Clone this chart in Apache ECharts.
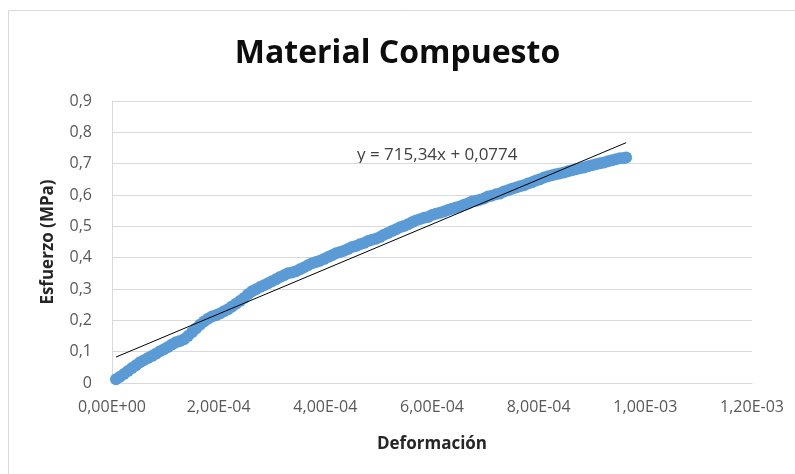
<!DOCTYPE html>
<html>
<head>
<meta charset="utf-8">
<title>Material Compuesto</title>
<script src="https://cdn.jsdelivr.net/npm/echarts@6/dist/echarts.min.js"></script>
<style>
  html, body { margin: 0; padding: 0; background: #fff; }
  #chart { width: 795px; height: 474px; }
</style>
</head>
<body>
<div id="chart"></div>
<script>
// Deformación (x) y esfuerzo en MPa (y)
const deformacion = [
  7.5e-6, 1.5e-5, 2.25e-5, 3e-5, 3.75e-5, 4.5e-5, 5.25e-5, 6e-5,
  6.75e-5, 7.5e-5, 8.25e-5, 9e-5, 9.75e-5, 1.05e-4, 1.125e-4, 1.2e-4,
  1.275e-4, 1.35e-4, 1.425e-4, 1.5e-4, 1.575e-4, 1.65e-4, 1.725e-4, 1.8e-4,
  1.875e-4, 1.95e-4, 2.025e-4, 2.1e-4, 2.175e-4, 2.25e-4, 2.325e-4, 2.4e-4,
  2.475e-4, 2.55e-4, 2.625e-4, 2.7e-4, 2.775e-4, 2.85e-4, 2.925e-4, 3e-4,
  3.075e-4, 3.15e-4, 3.225e-4, 3.3e-4, 3.375e-4, 3.45e-4, 3.525e-4, 3.6e-4,
  3.675e-4, 3.75e-4, 3.825e-4, 3.9e-4, 3.975e-4, 4.05e-4, 4.125e-4, 4.2e-4,
  4.275e-4, 4.35e-4, 4.425e-4, 4.5e-4, 4.575e-4, 4.65e-4, 4.725e-4, 4.8e-4,
  4.875e-4, 4.95e-4, 5.025e-4, 5.1e-4, 5.175e-4, 5.25e-4, 5.325e-4, 5.4e-4,
  5.475e-4, 5.55e-4, 5.625e-4, 5.7e-4, 5.775e-4, 5.85e-4, 5.925e-4, 6e-4,
  6.075e-4, 6.15e-4, 6.225e-4, 6.3e-4, 6.375e-4, 6.45e-4, 6.525e-4, 6.6e-4,
  6.675e-4, 6.75e-4, 6.825e-4, 6.9e-4, 6.975e-4, 7.05e-4, 7.125e-4, 7.2e-4,
  7.275e-4, 7.35e-4, 7.425e-4, 7.5e-4, 7.575e-4, 7.65e-4, 7.725e-4, 7.8e-4,
  7.875e-4, 7.95e-4, 8.025e-4, 8.1e-4, 8.175e-4, 8.25e-4, 8.325e-4, 8.4e-4,
  8.475e-4, 8.55e-4, 8.625e-4, 8.7e-4, 8.775e-4, 8.85e-4, 8.925e-4, 9e-4,
  9.075e-4, 9.15e-4, 9.225e-4, 9.3e-4, 9.375e-4, 9.45e-4, 9.525e-4, 9.6e-4,
  9.64e-4
]
const esfuerzo = [
  0.012, 0.020, 0.029, 0.038, 0.048, 0.057, 0.066, 0.073,
  0.080, 0.086, 0.093, 0.101, 0.108, 0.115, 0.123, 0.130,
  0.134, 0.140, 0.150, 0.162, 0.174, 0.186, 0.196, 0.205,
  0.212, 0.216, 0.222, 0.229, 0.235, 0.244, 0.253, 0.262,
  0.271, 0.283, 0.293, 0.299, 0.306, 0.312, 0.318, 0.325,
  0.331, 0.338, 0.344, 0.350, 0.353, 0.357, 0.363, 0.369,
  0.376, 0.382, 0.386, 0.390, 0.396, 0.402, 0.408, 0.414,
  0.418, 0.422, 0.428, 0.434, 0.437, 0.443, 0.447, 0.453,
  0.457, 0.460, 0.466, 0.473, 0.479, 0.485, 0.491, 0.497,
  0.501, 0.507, 0.513, 0.519, 0.523, 0.527, 0.530, 0.536,
  0.540, 0.543, 0.547, 0.552, 0.556, 0.560, 0.563, 0.569,
  0.573, 0.579, 0.582, 0.585, 0.589, 0.595, 0.598, 0.602,
  0.605, 0.611, 0.615, 0.620, 0.624, 0.628, 0.631, 0.637,
  0.641, 0.646, 0.650, 0.656, 0.660, 0.663, 0.666, 0.669,
  0.672, 0.676, 0.679, 0.682, 0.685, 0.688, 0.692, 0.695,
  0.698, 0.701, 0.704, 0.708, 0.711, 0.714, 0.717, 0.718,
  0.720
]

// línea de tendencia de Excel: y = 715,34x + 0,0774
const pendiente = 715.34
const intercepto = 0.0774

const xMin = 0
const xMax = 1.2e-3
const xStep = 2e-4
const yMin = 0
const yMax = 0.9
const yStep = 0.1

const fuente = '"Open Sans", Lato, sans-serif'

const puntos = deformacion.map((x, i) => [x, esfuerzo[i]])
const xIni = Math.min(...deformacion)
const xFin = Math.max(...deformacion)
const tendencia = [
  [xIni, pendiente * xIni + intercepto],
  [xFin, pendiente * xFin + intercepto]
]

function formatoCientifico(v) {
  if (v === 0) return '0,00E+00'
  const [m, e] = v.toExponential(2).split('e')
  const exp = parseInt(e, 10)
  const sign = exp < 0 ? '-' : '+'
  const digits = String(Math.abs(exp)).padStart(2, '0')
  return m.replace('.', ',') + 'E' + sign + digits
}

function formatoDecimal(v) {
  if (Math.abs(v) < 1e-9) return '0'
  return v.toFixed(1).replace('.', ',')
}

const chart = echarts.init(document.getElementById('chart'))

chart.setOption({
  animation: false,
  backgroundColor: '#fff',
  textStyle: { fontFamily: fuente },
  title: {
    text: 'Material Compuesto',
    left: 'center',
    top: 33,
    textStyle: {
      fontFamily: fuente,
      fontSize: 32,
      fontWeight: 'bold',
      color: '#0d0d0d'
    }
  },
  graphic: [
    {
      type: 'rect',
      silent: true,
      z: -1,
      shape: { x: 8.5, y: 10.5, width: 820, height: 500 },
      style: { fill: 'none', stroke: '#d9d9d9', lineWidth: 1 }
    },
    {
      type: 'text',
      left: 357,
      top: 147,
      style: {
        text: 'y = 715,34x + 0,0774',
        font: '17px ' + fuente,
        fill: '#404040'
      }
    }
  ],
  grid: {
    left: 112,
    right: 43,
    top: 101,
    bottom: 91
  },
  xAxis: {
    type: 'value',
    min: xMin,
    max: xMax,
    interval: xStep,
    name: 'Deformación',
    nameLocation: 'middle',
    nameGap: 53,
    nameTextStyle: {
      fontSize: 17,
      fontWeight: 'bold',
      color: '#262626'
    },
    axisLine: { show: true, lineStyle: { color: '#d9d9d9' } },
    axisTick: { show: false },
    splitLine: { show: false },
    axisLabel: {
      color: '#595959',
      fontSize: 16,
      margin: 16,
      formatter: formatoCientifico
    }
  },
  yAxis: {
    type: 'value',
    min: yMin,
    max: yMax,
    interval: yStep,
    name: 'Esfuerzo (MPa)',
    nameLocation: 'middle',
    nameGap: 55,
    nameTextStyle: {
      fontSize: 17,
      fontWeight: 'bold',
      color: '#262626'
    },
    axisLine: { show: true, lineStyle: { color: '#d9d9d9' } },
    axisTick: { show: false },
    splitLine: { show: true, lineStyle: { color: '#d9d9d9' } },
    axisLabel: {
      color: '#595959',
      fontSize: 16,
      margin: 20,
      formatter: formatoDecimal
    }
  },
  series: [
    {
      name: 'Esfuerzo',
      type: 'scatter',
      data: puntos,
      symbol: 'circle',
      symbolSize: 12,
      itemStyle: { color: '#5b9bd5', opacity: 1 }
    },
    {
      name: 'Tendencia',
      type: 'line',
      data: tendencia,
      showSymbol: false,
      symbol: 'none',
      z: 3,
      lineStyle: { color: '#000', width: 1 }
    }
  ]
})
</script>
</body>
</html>
